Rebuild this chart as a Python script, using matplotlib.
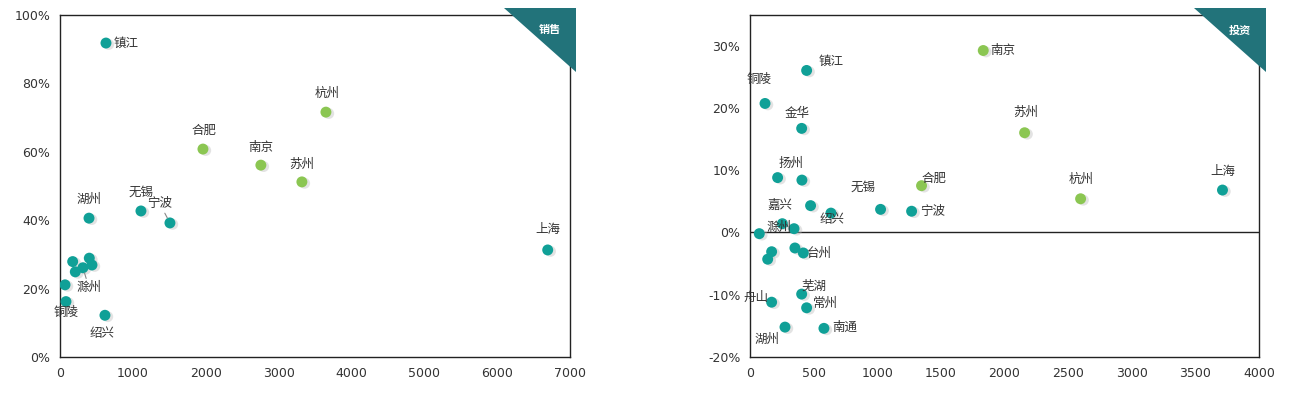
import matplotlib
matplotlib.use("Agg")
import matplotlib.pyplot as plt
from matplotlib.patches import Polygon
from matplotlib.ticker import FuncFormatter
import matplotlib.patheffects as pe

plt.rcParams['font.family'] = ['Noto Sans CJK SC', 'DejaVu Sans']

# sales panel
sales_city = ["镇江", "杭州", "合肥", "南京", "苏州", "上海", "无锡", "宁波", "湖州",
              "", "", "滁州", "", "", "", "铜陵", "绍兴"]
sales_x = [631, 3650, 1962, 2757, 3320, 6694, 1111, 1509, 398,
           174, 210, 315, 402, 439, 69, 82, 617]
sales_y = [91.8, 71.6, 60.8, 56.1, 51.2, 31.3, 42.7, 39.2, 40.6,
           27.9, 24.9, 26.1, 28.9, 26.9, 21.1, 16.2, 12.2]
sales_hl = ["杭州", "合肥", "南京", "苏州"]

# investment panel
inv_city = ["南京", "镇江", "铜陵", "金华", "扬州", "", "合肥", "无锡", "宁波", "",
            "绍兴", "嘉兴", "滁州", "", "", "台州", "", "", "芜湖", "舟山", "常州",
            "湖州", "南通", "苏州", "杭州", "上海"]
inv_x = [1833, 445, 118, 406, 217, 408, 1348, 1026, 1270, 476,
         636, 254, 346, 73, 353, 419, 170, 139, 406, 170, 445,
         275, 581, 2158, 2598, 3713]
inv_y = [29.2, 26.0, 20.7, 16.7, 8.8, 8.4, 7.5, 3.7, 3.4, 4.3,
         3.1, 1.4, 0.6, -0.2, -2.5, -3.3, -3.1, -4.3, -9.9, -11.2, -12.1,
         -15.2, -15.4, 16.0, 5.4, 6.8]
inv_hl = ["南京", "合肥", "苏州", "杭州"]

TEAL = "#10A097"
GREEN = "#8BC652"
RIBBON = "#22737A"

# label placement (pixels): dx, dy, ha, leader line
sales_lab = {
    "镇江": (8, 0, "left", False), "杭州": (1, 19, "center", False),
    "合肥": (1, 19, "center", False), "南京": (0, 18, "center", False),
    "苏州": (0, 18, "center", False), "上海": (0, 20, "center", False),
    "无锡": (0, 19, "center", False), "宁波": (-10, 19, "center", True),
    "湖州": (0, 19, "center", False), "滁州": (6, -20, "center", True),
    "铜陵": (0, -11, "center", False), "绍兴": (-3, -18, "center", False),
}
inv_lab = {
    "南京": (7, 0, "left", False), "镇江": (12, 9, "left", False),
    "铜陵": (-6, 24, "center", False), "金华": (-5, 15, "center", False),
    "扬州": (13, 14, "center", False), "合肥": (0, 7, "left", False),
    "无锡": (-18, 22, "center", False), "宁波": (8, 0, "left", False),
    "嘉兴": (-2, 18, "center", False), "滁州": (-15, 1, "center", False),
    "绍兴": (1, -6, "center", False), "台州": (3, 0, "left", False),
    "芜湖": (12, 8, "center", False), "舟山": (-3, 5, "right", False),
    "常州": (6, 4, "left", False), "湖州": (-18, -12, "center", False),
    "南通": (8, 1, "left", False), "苏州": (1, 20, "center", False),
    "杭州": (1, 19, "center", False), "上海": (0, 19, "center", False),
}

W, H = 1289, 399
fig = plt.figure(figsize=(W / 100, H / 100), dpi=100)

shadow = [pe.SimplePatchShadow(offset=(2, -1), shadow_rgbFace="#bbbbbb", alpha=0.4),
          pe.Normal()]


def panel(rect, cities, xs, ys, hl, labs, xlim, ylim, yticks, xticks):
    ax = fig.add_axes(rect)
    colors = [GREEN if c in hl else TEAL for c in cities]
    sc = ax.scatter(xs, ys, s=62, c=colors, linewidths=0, zorder=3)
    sc.set_path_effects(shadow)
    for c, x, y in zip(cities, xs, ys):
        if not c:
            continue
        dx, dy, ha, line = labs[c]
        kw = {}
        if line:
            kw["arrowprops"] = dict(arrowstyle="-", color="#888888", lw=0.8,
                                    shrinkA=0, shrinkB=4, relpos=(0.5, 0.5))
        ax.annotate(c, (x, y), xytext=(dx, dy), textcoords="offset pixels",
                    ha=ha, va="center", fontsize=9, color="#333333", zorder=4, **kw)
    ax.set_xlim(*xlim)
    ax.set_ylim(*ylim)
    ax.set_xticks(xticks)
    ax.set_yticks(yticks)
    ax.yaxis.set_major_formatter(FuncFormatter(lambda v, p: f"{v:.0f}%"))
    ax.tick_params(length=0, labelsize=9, labelcolor="#333333", pad=7)
    for lab in ax.get_xticklabels() + ax.get_yticklabels():
        lab.set_family("DejaVu Sans")
    for s in ax.spines.values():
        s.set_color("#222222")
        s.set_linewidth(1)
    return ax


ax1 = panel([60 / W, 1 - 357 / H, 510 / W, 342 / H], sales_city, sales_x, sales_y,
            sales_hl, sales_lab, (0, 7000), (0, 100),
            [0, 20, 40, 60, 80, 100], [0, 1000, 2000, 3000, 4000, 5000, 6000, 7000])

ax2 = panel([750 / W, 1 - 357 / H, 509 / W, 342 / H], inv_city, inv_x, inv_y,
            inv_hl, inv_lab, (0, 4000), (-20, 34.9),
            [-20, -10, 0, 10, 20, 30], [0, 500, 1000, 1500, 2000, 2500, 3000, 3500, 4000])
ax2.axhline(0, color="#222222", lw=1, zorder=2)

# corner ribbons
for x0, x1, txt, tx in [(504, 576, "销售", 550), (1194, 1266, "投资", 1240)]:
    tri = Polygon([(x0 / W, 1 - 8 / H), (x1 / W, 1 - 8 / H), (x1 / W, 1 - 72 / H)],
                  closed=True, transform=fig.transFigure, facecolor=RIBBON,
                  edgecolor="none", zorder=10)
    fig.patches.append(tri)
    fig.text(tx / W, 1 - 30 / H, txt, color="white", fontsize=8, fontweight="bold",
             ha="center", va="center", zorder=11)

fig.savefig("out.png", dpi=100)
